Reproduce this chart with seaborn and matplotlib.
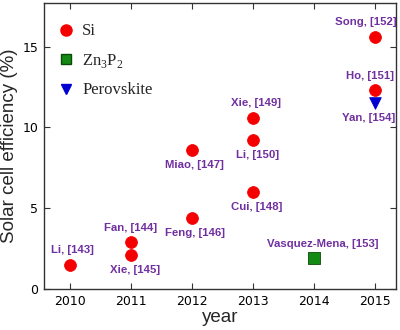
import matplotlib
matplotlib.use("Agg")
import matplotlib.pyplot as plt
import seaborn as sns
import pandas as pd
from matplotlib.lines import Line2D

# Reported solar cell efficiencies by year
years = [2010, 2011, 2011, 2012, 2012, 2013, 2013, 2013, 2015, 2015, 2015, 2014]
efficiency = [1.5, 2.9, 2.1, 4.4, 8.6, 6.0, 10.6, 9.2, 15.6, 12.3, 11.5, 1.9]
material = ["Si", "Si", "Si", "Si", "Si", "Si", "Si", "Si", "Si", "Si",
            "Perovskite", "Zn3P2"]
refs = ["Li, [143]", "Fan, [144]", "Xie, [145]", "Feng, [146]", "Miao, [147]",
        "Cui, [148]", "Xie, [149]", "Li, [150]", "Song, [152]", "Ho, [151]",
        "Yan, [154]", "Vasquez-Mena, [153]"]
# label placement: above (+) or below (-) the marker, and horizontal nudge
label_side = [1, 1, -1, -1, -1, -1, 1, -1, 1, 1, -1, 1]
label_dx = [2, -1, 4, 3, 2, 4, 3, 5, -9, -5, -6, 9]

materials = ["Si", "Zn3P2", "Perovskite"]
legend_labels = ["Si", "Zn$_3$P$_2$", "Perovskite"]
palette = {"Si": "#f50000", "Zn3P2": "#138a13", "Perovskite": "#0000d0"}
markers = {"Si": "o", "Zn3P2": "s", "Perovskite": "v"}
sizes = {"Si": 72, "Zn3P2": 65, "Perovskite": 70}

df = pd.DataFrame({"year": years, "eff": efficiency, "material": material,
                   "ref": refs})

sns.set_theme(style="ticks")
plt.rcParams["mathtext.fontset"] = "custom"
plt.rcParams["mathtext.rm"] = "Liberation Serif"
plt.rcParams["font.family"] = ["DejaVu Sans"]

fig = plt.figure(figsize=(4.0, 3.3), dpi=100)
ax = fig.add_axes([0.11, 0.124, 0.88, 0.867])

for m in materials:
    sub = df[df["material"] == m]
    edge = "#0a4a0a" if m == "Zn3P2" else palette[m]
    sns.scatterplot(data=sub, x="year", y="eff", color=palette[m],
                    marker=markers[m], s=sizes[m], edgecolor=edge,
                    linewidth=0.6, ax=ax, legend=False, zorder=3)

purple = "#7030a0"
for i, row in df.iterrows():
    dy = 10.5 if label_side[i] > 0 else -10.5
    ax.annotate(row["ref"], (row["year"], row["eff"]),
                xytext=(label_dx[i] * 0.72, dy), textcoords="offset points",
                ha="center", va="center", color=purple, fontsize=8.2,
                fontweight="bold", family="Liberation Sans")

ax.set_xlim(2009.57, 2015.35)
ax.set_ylim(0, 17.7)
ax.set_xticks([2010, 2011, 2012, 2013, 2014, 2015])
ax.set_yticks([0, 5, 10, 15])
ax.tick_params(direction="in", length=4, width=0.8, top=True, right=True,
               labelsize=9, colors="#333333", labelcolor="black", pad=4)
for s in ax.spines.values():
    s.set_color("#333333")
    s.set_linewidth(1.0)

ax.set_xlabel("year", fontsize=13.5, family="Liberation Sans", labelpad=1)
ax.set_ylabel("Solar cell efficiency (%)", fontsize=13.5,
              family="Liberation Sans", labelpad=3)

handles = [Line2D([], [], linestyle="none", marker=markers[m],
                  markerfacecolor=palette[m],
                  markeredgecolor=("#0a4a0a" if m == "Zn3P2" else palette[m]),
                  markersize={"Si": 8, "Zn3P2": 6.5, "Perovskite": 7.5}[m])
           for m in materials]
ax.legend(handles, legend_labels, loc="upper left", frameon=False,
          prop={"family": "Liberation Serif", "size": 12},
          bbox_to_anchor=(0.0, 0.975), borderaxespad=0.4,
          handletextpad=0.5, labelspacing=0.75, handlelength=1.0)

fig.savefig("out.png", dpi=100)
